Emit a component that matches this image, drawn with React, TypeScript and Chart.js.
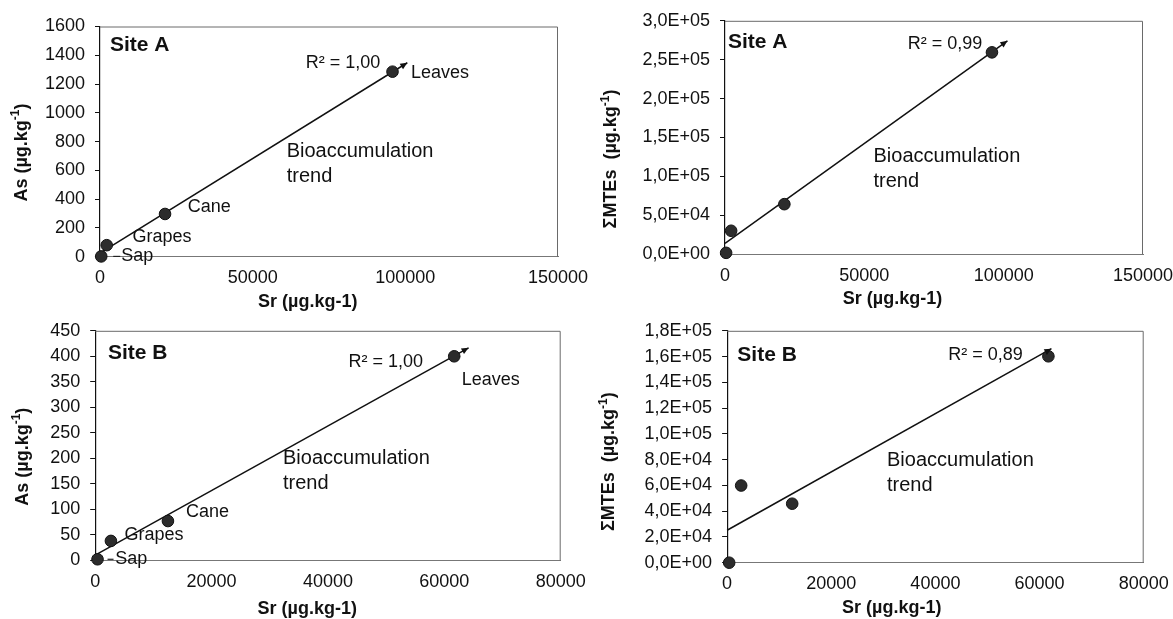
import React, { useEffect, useRef } from "react";
import { Chart, registerables } from "chart.js";
Chart.register(...registerables);

const FONT = "'Liberation Sans', Arial, Helvetica, sans-serif";

// ---- data ----
const partLabels = ["Sap", "Grapes", "Cane", "Leaves"];
const siteASr = [400, 2200, 21300, 95800];
const siteAAs = [2, 80, 297, 1286];
const siteAMTEs = [1500, 29900, 64100, 259400];
const siteBSr = [400, 2700, 12500, 61700];
const siteBAs = [2, 38, 77, 400];
const siteBMTEs = [0, 59900, 45800, 160200];

// trend-line end points
const trendAAsX = [0, 100650];
const trendAAsY = [25, 1348];
const trendAMTEsX = [0, 101350];
const trendAMTEsY = [13700, 274300];
const trendBAsX = [0, 64170];
const trendBAsY = [10, 416.7];
const trendBMTEsX = [0, 62280];
const trendBMTEsY = [25200, 166100];

const r2Labels = ["R² = 1,00", "R² = 0,99", "R² = 1,00", "R² = 0,89"];
const siteLabels = ["Site A", "Site A", "Site B", "Site B"];
const trendText = ["Bioaccumulation", "trend"];
const xTitleText = "Sr (µg.kg-1)";
const yTitleAs = ["As (µg.kg", "-1", ")"];
const yTitleMTEs = ["ΣMTEs  (µg.kg", "-1", ")"];

const xTicksA = [0, 50000, 100000, 150000];
const xTicksB = [0, 20000, 40000, 60000, 80000];
const yTicksAAs = [0, 200, 400, 600, 800, 1000, 1200, 1400, 1600];
const yTicksAMTEs = [0, 50000, 100000, 150000, 200000, 250000, 300000];
const yTicksBAs = [0, 50, 100, 150, 200, 250, 300, 350, 400, 450];
const yTicksBMTEs = [0, 20000, 40000, 60000, 80000, 100000, 120000, 140000, 160000, 180000];

const fmtPlain = (v: number) => String(v);
const fmtE = (v: number) => {
  if (v === 0) return "0,0E+00";
  const e = Math.floor(Math.log10(v) + 1e-9);
  const m = v / Math.pow(10, e);
  return m.toFixed(1).replace(".", ",") + "E+" + String(e).padStart(2, "0");
};

type LabelOff = { dx: number; dy: number; leader?: [number, number] };

type Panel = {
  box: { left: number; top: number; width: number; height: number };
  area: { L: number; R: number; T: number; B: number };
  xs: number[];
  ys: number[];
  tx: number[];
  ty: number[];
  xTicks: number[];
  yTicks: number[];
  yFmt: (v: number) => string;
  yTitle: string[];
  yTitlePos: [number, number];
  xTitlePos: [number, number];
  site: string;
  siteRel: [number, number];
  bioRel: [number, number];
  r2: string;
  r2Off: [number, number];
  pointLabels: LabelOff[] | null;
};

const RIGHT_ROOM = 50;

const panels: Panel[] = [
  {
    box: { left: 0, top: 0, width: 558 + RIGHT_ROOM, height: 312 },
    area: { L: 100, R: 558, T: 26.5, B: 256.7 },
    xs: siteASr, ys: siteAAs, tx: trendAAsX, ty: trendAAsY,
    xTicks: xTicksA, yTicks: yTicksAAs, yFmt: fmtPlain,
    yTitle: yTitleAs, yTitlePos: [21.7, 152.5], xTitlePos: [307.8, 302],
    site: siteLabels[0], siteRel: [9.9, 18.5], bioRel: [186.7, 125.2],
    r2: r2Labels[0], r2Off: [-12.3, -9],
    pointLabels: [
      { dx: 20, dy: 0, leader: [12, 19] },
      { dx: 25.7, dy: -8.3 },
      { dx: 22.8, dy: -6.7 },
      { dx: 18.4, dy: 1.6 },
    ],
  },
  {
    box: { left: 586, top: 0, width: 557 + RIGHT_ROOM, height: 310 },
    area: { L: 139, R: 557, T: 20, B: 254 },
    xs: siteASr, ys: siteAMTEs, tx: trendAMTEsX, ty: trendAMTEsY,
    xTicks: xTicksA, yTicks: yTicksAMTEs, yFmt: fmtE,
    yTitle: yTitleMTEs, yTitlePos: [25.3, 159], xTitlePos: [306.5, 299],
    site: siteLabels[1], siteRel: [2.9, 21.7], bioRel: [148.5, 135.7],
    r2: r2Labels[1], r2Off: [-9.7, -8.4],
    pointLabels: null,
  },
  {
    box: { left: 0, top: 310, width: 561 + RIGHT_ROOM, height: 309 },
    area: { L: 95.2, R: 560.7, T: 20.7, B: 250.3 },
    xs: siteBSr, ys: siteBAs, tx: trendBAsX, ty: trendBAsY,
    xTicks: xTicksB, yTicks: yTicksBAs, yFmt: fmtPlain,
    yTitle: yTitleAs, yTitlePos: [22.6, 146.7], xTitlePos: [307.2, 299.3],
    site: siteLabels[2], siteRel: [12.8, 22], bioRel: [187.8, 127.6],
    r2: r2Labels[2], r2Off: [-31.2, 5.7],
    pointLabels: [
      { dx: 17.7, dy: 0, leader: [10, 16] },
      { dx: 13.5, dy: -6 },
      { dx: 18.1, dy: -9.3 },
      { dx: 7.5, dy: 23.3 },
    ],
  },
  {
    box: { left: 586, top: 310, width: 558 + RIGHT_ROOM, height: 309 },
    area: { L: 141.1, R: 557.7, T: 19.3, B: 252.7 },
    xs: siteBSr, ys: siteBMTEs, tx: trendBMTEsX, ty: trendBMTEsY,
    xTicks: xTicksB, yTicks: yTicksBMTEs, yFmt: fmtE,
    yTitle: yTitleMTEs, yTitlePos: [23.3, 151.7], xTitlePos: [305.7, 298.3],
    site: siteLabels[3], siteRel: [10.2, 24], bioRel: [159.9, 129.7],
    r2: r2Labels[3], r2Off: [-25.6, -1],
    pointLabels: null,
  },
];

function drawRich(ctx: CanvasRenderingContext2D, parts: string[], cx: number, cy: number) {
  const main = "bold 18px " + FONT;
  const sup = "bold 12px " + FONT;
  ctx.font = main;
  const w0 = ctx.measureText(parts[0]).width;
  const w2 = ctx.measureText(parts[2]).width;
  ctx.font = sup;
  const w1 = ctx.measureText(parts[1]).width;
  const total = w0 + w1 + w2;
  let x = cx - total / 2;
  ctx.textAlign = "left";
  ctx.textBaseline = "middle";
  ctx.font = main;
  ctx.fillText(parts[0], x, cy);
  x += w0;
  ctx.font = sup;
  ctx.fillText(parts[1], x, cy - 6);
  x += w1;
  ctx.font = main;
  ctx.fillText(parts[2], x, cy);
}

function ChartPanel({ p }: { p: Panel }) {
  const ref = useRef<HTMLCanvasElement | null>(null);
  useEffect(() => {
    const canvas = ref.current;
    if (!canvas) return;
    const { width: W, height: H } = p.box;
    const { L, R, T, B } = p.area;
    const annot = {
      id: "annot" + p.box.left + "_" + p.box.top,
      afterDatasetsDraw(chart: any) {
        const ctx = chart.ctx as CanvasRenderingContext2D;
        const ca = chart.chartArea;
        const xs = chart.scales.x;
        const ys = chart.scales.y;
        ctx.save();
        // plot frame (top + right)
        ctx.strokeStyle = "#6a6a6a";
        ctx.lineWidth = 1;
        ctx.beginPath();
        ctx.moveTo(ca.left, ca.top + 0.5);
        ctx.lineTo(ca.right - 0.5, ca.top + 0.5);
        ctx.lineTo(ca.right - 0.5, ca.bottom);
        ctx.stroke();

        // arrow head at trend end
        const x1 = xs.getPixelForValue(p.tx[0]);
        const y1 = ys.getPixelForValue(p.ty[0]);
        const x2 = xs.getPixelForValue(p.tx[1]);
        const y2 = ys.getPixelForValue(p.ty[1]);
        const ang = Math.atan2(y2 - y1, x2 - x1);
        const len = 7, hw = 3.2;
        ctx.fillStyle = "#111";
        ctx.beginPath();
        ctx.moveTo(x2, y2);
        ctx.lineTo(x2 - len * Math.cos(ang) + hw * Math.sin(ang), y2 - len * Math.sin(ang) - hw * Math.cos(ang));
        ctx.lineTo(x2 - len * Math.cos(ang) - hw * Math.sin(ang), y2 - len * Math.sin(ang) + hw * Math.cos(ang));
        ctx.closePath();
        ctx.fill();

        ctx.fillStyle = "#111";
        ctx.textBaseline = "middle";

        // Site label
        ctx.font = "bold 21px " + FONT;
        ctx.textAlign = "left";
        ctx.fillText(p.site, ca.left + p.siteRel[0], ca.top + p.siteRel[1]);

        // Bioaccumulation trend
        ctx.font = "20px " + FONT;
        ctx.fillText(trendText[0], ca.left + p.bioRel[0], ca.top + p.bioRel[1]);
        ctx.fillText(trendText[1], ca.left + p.bioRel[0], ca.top + p.bioRel[1] + 25);

        // R²
        const lx = xs.getPixelForValue(p.xs[3]);
        const ly = ys.getPixelForValue(p.ys[3]);
        ctx.font = "18px " + FONT;
        ctx.textAlign = "right";
        ctx.fillText(p.r2, lx + p.r2Off[0], ly + p.r2Off[1]);

        // point labels
        if (p.pointLabels) {
          ctx.textAlign = "left";
          p.pointLabels.forEach((o, i) => {
            const px = xs.getPixelForValue(p.xs[i]);
            const py = ys.getPixelForValue(p.ys[i]);
            if (o.leader) {
              ctx.strokeStyle = "#222";
              ctx.lineWidth = 1.2;
              ctx.beginPath();
              ctx.moveTo(px + o.leader[0], py + o.dy);
              ctx.lineTo(px + o.leader[1], py + o.dy);
              ctx.stroke();
            }
            ctx.fillText(partLabels[i], px + o.dx, py + o.dy);
          });
        }

        // axis titles
        ctx.fillStyle = "#111";
        ctx.font = "bold 18px " + FONT;
        ctx.textAlign = "center";
        ctx.fillText(xTitleText, p.xTitlePos[0], p.xTitlePos[1]);
        ctx.save();
        ctx.translate(p.yTitlePos[0], p.yTitlePos[1]);
        ctx.rotate(-Math.PI / 2);
        drawRich(ctx, p.yTitle, 0, 0);
        ctx.restore();
        ctx.restore();
      },
    };

    const chart = new Chart(canvas, {
      type: "scatter",
      data: {
        datasets: [
          {
            data: p.xs.map((x, i) => ({ x, y: p.ys[i] })),
            pointRadius: 5.8,
            pointBackgroundColor: "#2c2c2c",
            pointBorderColor: "#111",
            pointBorderWidth: 1,
            clip: false,
          },
          {
            data: p.tx.map((x, i) => ({ x, y: p.ty[i] })),
            showLine: true,
            pointRadius: 0,
            borderColor: "#111",
            borderWidth: 1.5,
            clip: false,
          },
        ],
      },
      options: {
        animation: false,
        responsive: false,
        events: [],
        layout: {
          autoPadding: false,
          padding: { left: 0, right: W - R, top: T, bottom: 0 },
        },
        plugins: {
          legend: { display: false },
          tooltip: { enabled: false },
        },
        scales: {
          x: {
            type: "linear",
            min: p.xTicks[0],
            max: p.xTicks[p.xTicks.length - 1],
            afterBuildTicks: (s: any) => {
              s.ticks = p.xTicks.map((v) => ({ value: v }));
            },
            afterFit: (s: any) => {
              s.height = H - B;
            },
            grid: { display: false, drawTicks: false },
            border: { display: true, color: "#777", width: 1 },
            ticks: {
              font: { family: FONT, size: 18 },
              color: "#111",
              padding: 11,
              maxRotation: 0,
              autoSkip: false,
              callback: (v: any) => fmtPlain(Number(v)),
            },
          },
          y: {
            type: "linear",
            min: p.yTicks[0],
            max: p.yTicks[p.yTicks.length - 1],
            afterBuildTicks: (s: any) => {
              s.ticks = p.yTicks.map((v) => ({ value: v }));
            },
            afterFit: (s: any) => {
              s.width = L;
            },
            grid: { display: true, drawOnChartArea: false, drawTicks: true, tickLength: 5, color: "#111" },
            border: { display: true, color: "#111", width: 1.2 },
            ticks: {
              font: { family: FONT, size: 18 },
              color: "#111",
              padding: 10,
              autoSkip: false,
              callback: (v: any) => p.yFmt(Number(v)),
            },
          },
        },
      } as any,
      plugins: [annot],
    });
    return () => chart.destroy();
  }, [p]);

  return (
    <canvas
      ref={ref}
      width={p.box.width}
      height={p.box.height}
      style={{
        position: "absolute",
        left: p.box.left,
        top: p.box.top,
        width: p.box.width,
        height: p.box.height,
      }}
    />
  );
}

export default function App() {
  return (
    <div
      style={{
        position: "absolute",
        left: 0,
        top: 0,
        width: 1173,
        height: 619,
        background: "#fff",
        overflow: "hidden",
      }}
    >
      {panels.map((p, i) => (
        <ChartPanel key={i} p={p} />
      ))}
    </div>
  );
}
